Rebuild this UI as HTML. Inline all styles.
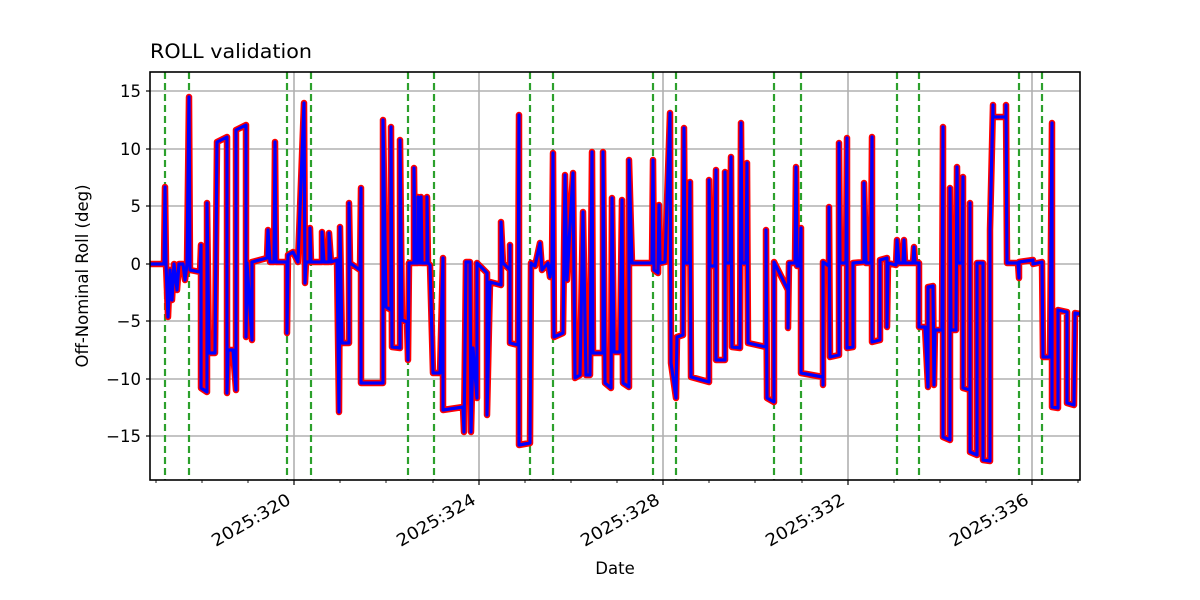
<!DOCTYPE html>
<html><head><meta charset="utf-8"><style>
html,body{margin:0;padding:0;background:#fff;}
svg{display:block;font-family:"DejaVu Sans","Liberation Sans",sans-serif;}
</style></head><body>
<svg width="1200" height="600" viewBox="0 0 1200 600" xmlns="http://www.w3.org/2000/svg">
<defs><clipPath id="c"><rect x="150" y="72" width="930" height="408"/></clipPath>
<polyline id="p" points="150,264 164,264 165,187 166,264 168,317 170,270 172,300 174,264 177,290 179,264 183,264 185,280 187,264 189,97 190,270 200,272 201,245 201,388 207,392 207,203 209,353 215,353 217,142 227,137 227,393 228,350 233,350 236,390 236,130 246,125 246,337 247,263 252,340 252,262 267,258 268,230 270,262 274,262 275,142 276,262 287,262 287,333 288,255 293,252 298,262 304,103 305,283 306,262 310,262 310,228 311,262 322,262 322,232 324,262 329,262 329,233 331,262 337,260 339,412 340,227 342,343 349,343 349,203 350,263 360,270 361,188 361,383 383,383 383,120 386,307 391,310 391,127 392,347 400,348 400,140 402,320 407,322 408,360 409,263 414,263 414,168 415,263 418,263 418,197 420,263 421,197 422,263 427,263 427,197 428,263 430,265 433,373 440,373 443,258 443,410 463,407 464,432 466,262 470,262 471,432 473,348 477,398 477,263 487,273 487,415 490,282 501,285 501,222 503,263 510,270 510,245 510,343 518,345 519,115 519,445 530,443 531,263 535,266 540,243 542,270 548,263 550,277 552,262 553,153 554,337 563,333 565,175 567,280 573,173 575,378 580,375 583,212 586,375 590,375 592,152 593,353 603,353 603,152 605,383 611,388 612,198 614,352 620,352 622,200 623,383 629,387 629,160 632,263 652,263 653,160 654,270 658,273 659,205 660,263 665,262 670,113 671,363 676,398 677,337 683,335 684,128 685,263 689,263 690,182 691,377 709,382 709,180 710,266 715,266 716,170 716,360 725,360 725,172 726,263 730,263 731,157 732,347 740,348 741,123 742,263 746,263 747,163 748,343 766,347 766,230 767,398 774,402 774,262 788,290 788,328 789,263 795,263 796,167 797,266 800,266 801,228 801,373 823,377 823,385 823,262 829,266 829,207 830,357 839,355 839,143 840,263 846,263 847,138 847,348 853,347 853,263 864,262 864,183 866,263 871,263 872,137 872,342 880,340 880,260 887,258 887,327 888,263 896,265 897,240 899,263 903,263 904,240 905,263 913,263 914,247 915,263 919,263 919,327 925,327 928,387 928,287 933,286 934,385 935,330 942,330 943,127 943,437 950,440 950,188 951,330 956,330 957,167 958,263 962,263 963,177 963,388 970,390 970,203 970,452 977,455 977,263 983,263 983,460 990,461 990,263 990,230 993,105 993,117 1006,117 1006,105 1007,263 1018,263 1019,278 1019,262 1033,260 1033,264 1042,262 1043,357 1050,357 1052,123 1052,407 1058,408 1058,310 1067,312 1067,403 1074,405 1075,313 1080,314"/>
</defs>
<rect width="1200" height="600" fill="#fff"/>
<g stroke="#b0b0b0" stroke-width="1.6">
<line x1="294" y1="72" x2="294" y2="480"/><line x1="479" y1="72" x2="479" y2="480"/><line x1="663" y1="72" x2="663" y2="480"/><line x1="848" y1="72" x2="848" y2="480"/><line x1="1032" y1="72" x2="1032" y2="480"/>
<line x1="150" y1="91" x2="1080" y2="91"/><line x1="150" y1="149" x2="1080" y2="149"/><line x1="150" y1="206" x2="1080" y2="206"/><line x1="150" y1="264" x2="1080" y2="264"/><line x1="150" y1="321" x2="1080" y2="321"/><line x1="150" y1="379" x2="1080" y2="379"/><line x1="150" y1="436" x2="1080" y2="436"/>
</g>
<g stroke="#2ca02c" stroke-width="2.2" stroke-dasharray="7,4">
<line x1="165" y1="72" x2="165" y2="480"/><line x1="189" y1="72" x2="189" y2="480"/><line x1="287" y1="72" x2="287" y2="480"/><line x1="311" y1="72" x2="311" y2="480"/><line x1="408" y1="72" x2="408" y2="480"/><line x1="434" y1="72" x2="434" y2="480"/><line x1="530" y1="72" x2="530" y2="480"/><line x1="553" y1="72" x2="553" y2="480"/><line x1="653" y1="72" x2="653" y2="480"/><line x1="676" y1="72" x2="676" y2="480"/><line x1="774" y1="72" x2="774" y2="480"/><line x1="801" y1="72" x2="801" y2="480"/><line x1="897" y1="72" x2="897" y2="480"/><line x1="919" y1="72" x2="919" y2="480"/><line x1="1019" y1="72" x2="1019" y2="480"/><line x1="1042" y1="72" x2="1042" y2="480"/>
</g>
<g clip-path="url(#c)" fill="none" stroke-linejoin="round">
<g stroke="#ff0000" stroke-width="6.5"><use href="#p"/></g>
<g stroke="#0000ff" stroke-width="3.2"><use href="#p"/></g>
</g>
<rect x="150" y="72" width="930" height="408" fill="none" stroke="#000" stroke-width="1.6"/>
<g stroke="#000" stroke-width="1.2">
<line x1="146" y1="91" x2="150" y2="91"/><line x1="146" y1="149" x2="150" y2="149"/><line x1="146" y1="206" x2="150" y2="206"/><line x1="146" y1="264" x2="150" y2="264"/><line x1="146" y1="321" x2="150" y2="321"/><line x1="146" y1="379" x2="150" y2="379"/><line x1="146" y1="436" x2="150" y2="436"/>
<line x1="294" y1="480" x2="294" y2="485"/><line x1="479" y1="480" x2="479" y2="485"/><line x1="663" y1="480" x2="663" y2="485"/><line x1="848" y1="480" x2="848" y2="485"/><line x1="1032" y1="480" x2="1032" y2="485"/>
</g>
<g stroke="#000" stroke-width="0.9">
<line x1="156" y1="480" x2="156" y2="483"/><line x1="202" y1="480" x2="202" y2="483"/><line x1="248" y1="480" x2="248" y2="483"/><line x1="340" y1="480" x2="340" y2="483"/><line x1="386" y1="480" x2="386" y2="483"/><line x1="433" y1="480" x2="433" y2="483"/><line x1="525" y1="480" x2="525" y2="483"/><line x1="571" y1="480" x2="571" y2="483"/><line x1="617" y1="480" x2="617" y2="483"/><line x1="709" y1="480" x2="709" y2="483"/><line x1="755" y1="480" x2="755" y2="483"/><line x1="802" y1="480" x2="802" y2="483"/><line x1="894" y1="480" x2="894" y2="483"/><line x1="940" y1="480" x2="940" y2="483"/><line x1="986" y1="480" x2="986" y2="483"/><line x1="1078" y1="480" x2="1078" y2="483"/>
</g>
<g font-size="16.5" fill="#000" text-anchor="end">
<text x="141" y="97">15</text><text x="141" y="155">10</text><text x="141" y="212">5</text><text x="141" y="270">0</text><text x="141" y="327">−5</text><text x="141" y="385">−10</text><text x="141" y="442">−15</text>
</g>
<g font-size="17" fill="#000" text-anchor="end">
<text transform="translate(292,503) rotate(-30)" textLength="88" lengthAdjust="spacingAndGlyphs">2025:320</text>
<text transform="translate(477,503) rotate(-30)" textLength="88" lengthAdjust="spacingAndGlyphs">2025:324</text>
<text transform="translate(661,503) rotate(-30)" textLength="88" lengthAdjust="spacingAndGlyphs">2025:328</text>
<text transform="translate(846,503) rotate(-30)" textLength="88" lengthAdjust="spacingAndGlyphs">2025:332</text>
<text transform="translate(1030,503) rotate(-30)" textLength="88" lengthAdjust="spacingAndGlyphs">2025:336</text>
</g>
<text x="615" y="574" font-size="16.5" text-anchor="middle">Date</text>
<text transform="translate(88,276) rotate(-90)" font-size="16.5" text-anchor="middle">Off-Nominal Roll (deg)</text>
<text x="150" y="58" font-size="19.5" textLength="162" lengthAdjust="spacingAndGlyphs">ROLL validation</text>
</svg>
</body></html>
